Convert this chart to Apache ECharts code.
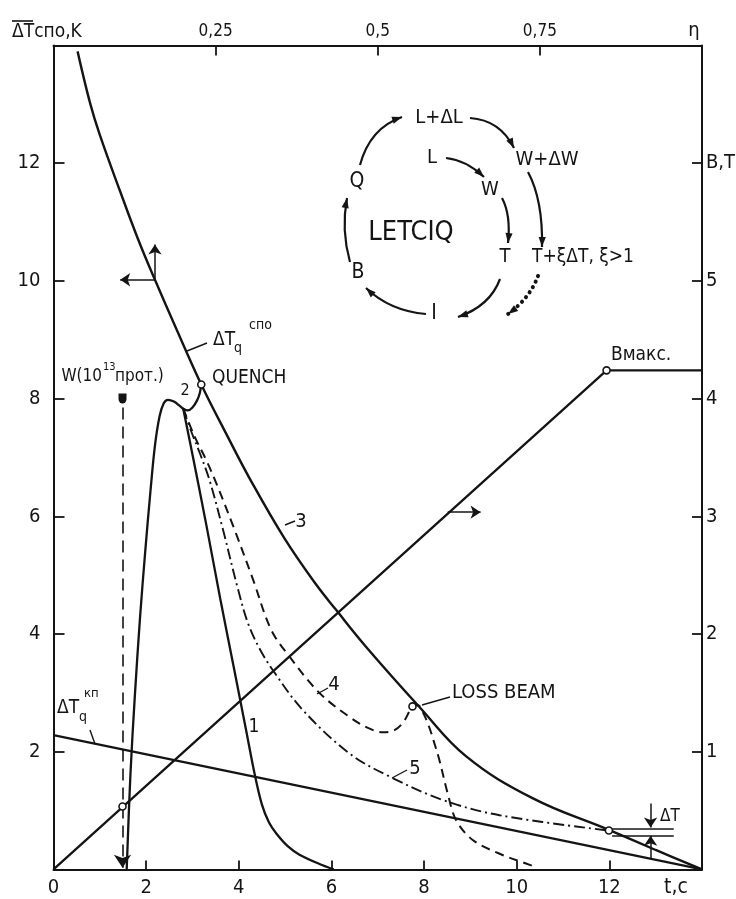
<!DOCTYPE html>
<html><head><meta charset="utf-8">
<script src="https://cdn.jsdelivr.net/npm/echarts@6/dist/echarts.min.js"></script>
<style>html,body{margin:0;padding:0;background:#fff}#c{width:736px;height:899px}</style>
</head><body><div id="c"></div>
<script>
const FONT = "'Liberation Sans Narrow','DejaVu Sans Condensed','Arial Narrow',sans-serif";
const INK = '#141414';

// ---- tick labels ----
const tTickLabels   = ['0','2','4','6','8','10','12',''];
const dTTickLabels  = ['','2','4','6','8','10','12',''];
const bTickLabels   = ['','1','2','3','4','5','B,T',''];
const etaTickLabels = ['','0,25','0,5','0,75','η'];

// ---- series data (t, ΔT) ----
const curve3 = [[0.52,13.9],[0.79,13.02],[1.0,12.48],[1.43,11.54],[1.83,10.7],[2.19,10.02],[2.66,9.17],[3.19,8.24],[3.73,7.40],[4.23,6.65],[4.99,5.62],[5.67,4.84],[6.10,4.41],[6.75,3.78],[7.90,2.76],[8.91,1.92],[10.34,1.21],[11.99,0.67],[13.0,0.33],[14,0]];
const curve2 = [[1.58,0],[1.66,1.6],[1.76,3.0],[1.87,4.3],[1.98,5.4],[2.09,6.4],[2.19,7.2],[2.29,7.7],[2.38,7.92],[2.47,7.98],[2.60,7.95],[2.72,7.88],[2.80,7.83],[2.90,7.80],[3.00,7.85],[3.10,7.97],[3.16,8.10],[3.19,8.24]];
const curve1 = [[2.80,7.83],[3.0,7.05],[3.3,5.85],[3.6,4.6],[3.9,3.4],[4.15,2.4],[4.34,1.63],[4.50,1.10],[4.65,0.80],[4.81,0.61],[5.05,0.40],[5.31,0.25],[5.81,0.07],[6.05,0]];
const curve4 = [[2.80,7.83],[3.05,7.35],[3.30,6.95],[3.52,6.55],[3.91,5.77],[4.31,4.92],[4.70,4.07],[5.10,3.61],[5.74,3.0],[6.39,2.59],[6.80,2.40],[7.11,2.33],[7.35,2.36],[7.55,2.50],[7.68,2.68],[7.75,2.77],[7.87,2.79],[7.98,2.66],[8.11,2.42],[8.22,2.15],[8.33,1.86],[8.51,1.29],[8.69,0.84],[9.05,0.50],[9.62,0.27],[10.2,0.10],[10.45,0.03]];
const curve5 = [[2.80,7.83],[2.97,7.45],[3.17,7.05],[3.37,6.61],[3.66,5.77],[3.97,4.80],[4.20,4.18],[4.45,3.75],[4.74,3.38],[5.38,2.71],[6.39,1.97],[7.25,1.58],[8.40,1.18],[9.63,0.92],[11.99,0.66]];
const dTkpLine = [[0,2.28],[14,0]];
const bLine = [[0,0],[11.94,4.24],[14,4.24]];           // B, T (right axis)
const openPoints = [[1.49,1.07],[3.19,8.24],[7.75,2.77],[11.99,0.66]];
const bMaxPoint = [[11.94,4.24]];
const wPoint = [[1.49,8.0]];
const wDrop = [[1.49,7.85],[1.49,0.03]];
const arrowSegs = [[[2.19,10.02],[1.44,10.02]],[[2.19,10.02],[2.19,10.62]],[[8.51,6.07],[9.22,6.07]],[[12.89,1.12],[12.89,0.71]],[[12.89,0.17],[12.89,0.57]]];
const deltaMarks = [[[12.06,0.69],[13.39,0.69]],[[12.06,0.58],[13.39,0.58]]];

// ---- annotation helpers (pixels) ----
function txt(text, x, y, size, align, vAlign){
  return {type:'text', x:x, y:y, z:100, style:{text:text, fontSize:size, fontFamily:FONT, fill:INK, align:align||'left', verticalAlign:vAlign||'middle'}};
}
function seg(x1,y1,x2,y2,w){
  return {type:'line', z:100, shape:{x1:x1,y1:y1,x2:x2,y2:y2}, style:{stroke:INK, lineWidth:w||1.5}};
}
function arc(x1,y1,cx,cy,x2,y2,dotted){
  const els = [];
  els.push({type:'bezierCurve', z:100, shape:{x1:x1,y1:y1,cpx1:cx,cpy1:cy,x2:x2,y2:y2},
    style: dotted ? {stroke:INK, fill:null, lineWidth:4, lineDash:[0.1,6], lineCap:'round'} : {stroke:INK, fill:null, lineWidth:2.2}});
  let dx = x2-cx, dy = y2-cy; const L = Math.hypot(dx,dy); dx/=L; dy/=L;
  const al = 10, aw = 3.6;
  const bx = x2-dx*al, by = y2-dy*al;
  els.push({type:'polygon', z:101, shape:{points:[[x2,y2],[bx-dy*aw,by+dx*aw],[bx+dy*aw,by-dx*aw]]}, style:{fill:INK}});
  return els;
}

const graphics = [].concat(
  [txt('ΔTспо,K', 12, 32, 19), seg(12,21,33,21,1.6)],
  [txt('t,c', 676, 888, 21, 'center')],
  [txt('ΔT', 213, 340, 19), txt('q', 234, 348, 14), txt('спо', 249, 325, 14), seg(187,351,207,343,1.4)],
  [txt('ΔT', 57, 708, 19), txt('q', 79, 717, 14), txt('кп', 84, 694, 13), seg(90,730,95,744,1.4)],
  [txt('W(10', 102, 377, 17, 'right'), txt('13', 103, 367, 11), txt('прот.)', 115, 377, 17)],
  [txt('QUENCH', 212, 378, 19), txt('2', 185, 391, 16, 'center')],
  [txt('1', 254, 727, 19, 'center')],
  [txt('3', 301, 522, 20, 'center'), seg(285,525,295,521,1.4)],
  [txt('4', 334, 685, 20, 'center'), seg(317,694,328,688,1.4)],
  [txt('5', 415, 769, 20, 'center'), seg(392,778,407,770,1.4)],
  [txt('LOSS BEAM', 452, 693, 20), seg(422,705,450,697,1.4)],
  [txt('Bмакс.', 611, 355, 19)],
  [txt('ΔT', 660, 817, 17)],
  [txt('L+ΔL', 439, 118, 20, 'center'), txt('W+ΔW', 547, 160, 20, 'center'), txt('L', 432, 158, 20, 'center'),
   txt('W', 490, 190, 20, 'center'), txt('Q', 357, 182, 21, 'center'), txt('LETCIQ', 411, 233, 27, 'center'),
   txt('T', 505, 257, 20, 'center'), txt('T+ξΔT, ξ>1', 532, 257, 19), txt('B', 358, 273, 21, 'center'), txt('I', 434, 314, 21, 'center')],
  arc(360,165,370,128,402,117),
  arc(470,118,500,120,514,148),
  arc(528,172,543,200,542,247),
  arc(538,276,530,298,508,314,true),
  arc(446,158,466,160,484,177),
  arc(502,198,511,215,508,243),
  arc(500,279,490,306,458,317),
  arc(426,314,390,311,366,288),
  arc(350,262,341,230,347,198)
);

const axisFont = {fontFamily:FONT, color:INK};
const chart = echarts.init(document.getElementById('c'), null, {renderer:'canvas'});
chart.setOption({
  animation:false,
  backgroundColor:'#ffffff',
  grid:{left:53.5, right:34, top:45.5, bottom:29.6, containLabel:false, outerBoundsMode:'none'},
  xAxis:[
    {type:'value', position:'bottom', min:0, max:14, interval:2,
     axisLine:{onZero:false, lineStyle:{color:INK, width:2}},
     axisTick:{inside:true, length:9, lineStyle:{color:INK, width:1.8}},
     axisLabel:Object.assign({fontSize:20, margin:8, showMinLabel:true, formatter:v=>tTickLabels[Math.round(v/2)]}, axisFont),
     splitLine:{show:false}},
    {type:'value', position:'top', min:0, max:1, interval:0.25,
     axisLine:{onZero:false, lineStyle:{color:INK, width:2}},
     axisTick:{inside:true, length:10, lineStyle:{color:INK, width:1.8}},
     axisLabel:Object.assign({fontSize:17, margin:5, formatter:v=>{const s=etaTickLabels[Math.round(v*4)]; return s==='η'?'{e|η}':s;},
       rich:{e:{fontSize:20, fontFamily:FONT, color:INK, padding:[0,16,0,0]}}}, axisFont),
     splitLine:{show:false}}
  ],
  yAxis:[
    {type:'value', position:'left', min:0, max:14, interval:2,
     axisLine:{onZero:false, lineStyle:{color:INK, width:2}},
     axisTick:{inside:true, length:11, lineStyle:{color:INK, width:1.8}},
     axisLabel:Object.assign({fontSize:20, margin:13, formatter:v=>dTTickLabels[Math.round(v/2)]}, axisFont),
     splitLine:{show:false}},
    {type:'value', position:'right', min:0, max:7, interval:1,
     axisLine:{onZero:false, lineStyle:{color:INK, width:2}},
     axisTick:{inside:true, length:10, lineStyle:{color:INK, width:1.8}},
     axisLabel:Object.assign({fontSize:20, margin:4, formatter:v=>bTickLabels[Math.round(v)]}, axisFont),
     splitLine:{show:false}}
  ],
  series:[
    {type:'line', data:curve3, smooth:0.4, showSymbol:false, lineStyle:{color:INK, width:2.4}},
    {type:'line', data:curve2, smooth:0.35, showSymbol:false, lineStyle:{color:INK, width:2.3}},
    {type:'line', data:curve1, smooth:0.35, showSymbol:false, lineStyle:{color:INK, width:2.3}},
    {type:'line', data:curve4, smooth:0.35, showSymbol:false, lineStyle:{color:INK, width:2, type:[9,6]}},
    {type:'line', data:curve5, smooth:0.35, showSymbol:false, lineStyle:{color:INK, width:1.9, type:[11,4,2,4]}},
    {type:'line', data:dTkpLine, showSymbol:false, lineStyle:{color:INK, width:2.3}},
    {type:'line', data:bLine, yAxisIndex:1, showSymbol:false, lineStyle:{color:INK, width:2.3}},
    {type:'lines', coordinateSystem:'cartesian2d', data:[{coords:wDrop}], symbol:['none','arrow'], symbolSize:[7,13],
     lineStyle:{color:INK, width:1.6, type:[12,7], opacity:1}},
    {type:'lines', coordinateSystem:'cartesian2d', data:arrowSegs.map(c=>({coords:c})), symbol:['none','arrow'], symbolSize:[6,10],
     lineStyle:{color:INK, width:1.5, opacity:1}},
    {type:'lines', coordinateSystem:'cartesian2d', data:deltaMarks.map(c=>({coords:c})), symbol:'none',
     lineStyle:{color:INK, width:1.5, opacity:1}},
    {type:'scatter', data:openPoints, symbol:'circle', symbolSize:7, z:5, itemStyle:{color:'#fff', borderColor:INK, borderWidth:1.6, opacity:1}},
    {type:'scatter', data:bMaxPoint, yAxisIndex:1, symbol:'circle', symbolSize:7, z:5, itemStyle:{color:'#fff', borderColor:INK, borderWidth:1.6, opacity:1}},
    {type:'scatter', data:wPoint, symbol:'path://M0 0H10V6A5 5 0 0 1 0 6Z', symbolSize:[8,10], z:5, itemStyle:{color:INK, opacity:1}}
  ],
  graphic:{elements:graphics}
});
</script></body></html>
